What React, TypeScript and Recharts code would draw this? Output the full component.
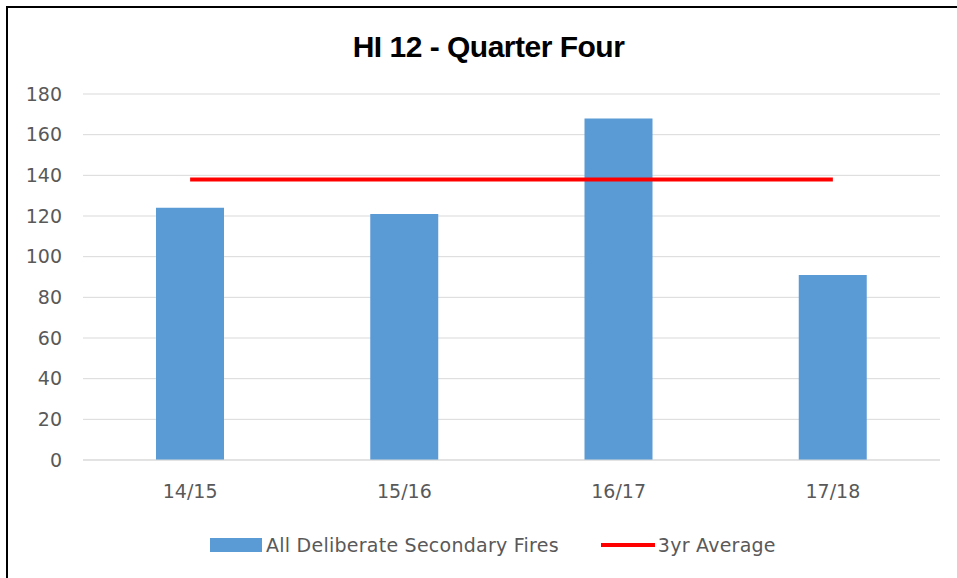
import {
  ComposedChart,
  Bar,
  Line,
  XAxis,
  YAxis,
  CartesianGrid,
} from "recharts";

const seasons = ["14/15", "15/16", "16/17", "17/18"];
const deliberateFires = [124, 121, 168, 91];
const threeYearAverage = [138, 138, 138, 138];
const yTicks = [0, 20, 40, 60, 80, 100, 120, 140, 160, 180];

const BAR_NAME = "All Deliberate Secondary Fires";
const LINE_NAME = "3yr Average";

const data = seasons.map((season, i) => ({
  season,
  fires: deliberateFires[i],
  avg: threeYearAverage[i],
}));

const labelFont = "'DejaVu Sans', 'Noto Sans', sans-serif";

function ChartLegend() {
  return (
    <div
      style={{
        position: "absolute",
        left: 210,
        top: 533,
        display: "flex",
        alignItems: "center",
        fontFamily: labelFont,
        fontSize: 19,
        letterSpacing: 0.25,
        lineHeight: "24px",
        color: "#595959",
        whiteSpace: "nowrap",
      }}
    >
      <span
        style={{
          display: "inline-block",
          width: 52,
          height: 14,
          background: "#5B9BD5",
          marginRight: 4,
        }}
      />
      <span>{BAR_NAME}</span>
      <span
        style={{
          display: "inline-block",
          width: 54,
          height: 4,
          background: "#FF0000",
          marginLeft: 42,
          marginRight: 3,
        }}
      />
      <span>{LINE_NAME}</span>
    </div>
  );
}

export default function App() {
  return (
    <div
      style={{
        position: "absolute",
        left: 0,
        top: 0,
        width: 957,
        height: 578,
        background: "#fff",
        overflow: "hidden",
      }}
    >
      <div
        style={{
          position: "absolute",
          left: 6,
          top: 6,
          width: 960,
          height: 600,
          borderTop: "2px solid #000",
          borderLeft: "2px solid #000",
        }}
      />
      <div
        style={{
          position: "absolute",
          left: 0,
          top: 30,
          width: 977,
          textAlign: "center",
          fontFamily: "'Liberation Sans', Arial, sans-serif",
          fontWeight: "bold",
          fontSize: 30,
          letterSpacing: -0.5,
          color: "#000",
        }}
      >
        HI 12 - Quarter Four
      </div>
      <div style={{ position: "absolute", left: 0, top: 0 }}>
        <ComposedChart
          width={957}
          height={578}
          data={data}
          margin={{ top: 94, right: 17, left: 0, bottom: 0 }}
        >
          <CartesianGrid stroke="#d9d9d9" vertical={false} />
          <XAxis
            dataKey="season"
            tickLine={false}
            axisLine={{ stroke: "#d9d9d9" }}
            tickMargin={19}
            height={118}
            tick={{ fill: "#595959", fontSize: 19, fontFamily: labelFont }}
          />
          <YAxis
            domain={[0, 180]}
            ticks={yTicks}
            interval={0}
            width={83}
            tickLine={false}
            axisLine={false}
            tickMargin={15}
            tick={{ fill: "#595959", fontSize: 19, fontFamily: labelFont }}
          />
          <Bar
            dataKey="fires"
            name={BAR_NAME}
            fill="#5B9BD5"
            barSize={68}
            isAnimationActive={false}
          />
          <Line
            dataKey="avg"
            name={LINE_NAME}
            stroke="#FF0000"
            strokeWidth={4}
            dot={false}
            activeDot={false}
            isAnimationActive={false}
          />
        </ComposedChart>
      </div>
      <ChartLegend />
    </div>
  );
}
